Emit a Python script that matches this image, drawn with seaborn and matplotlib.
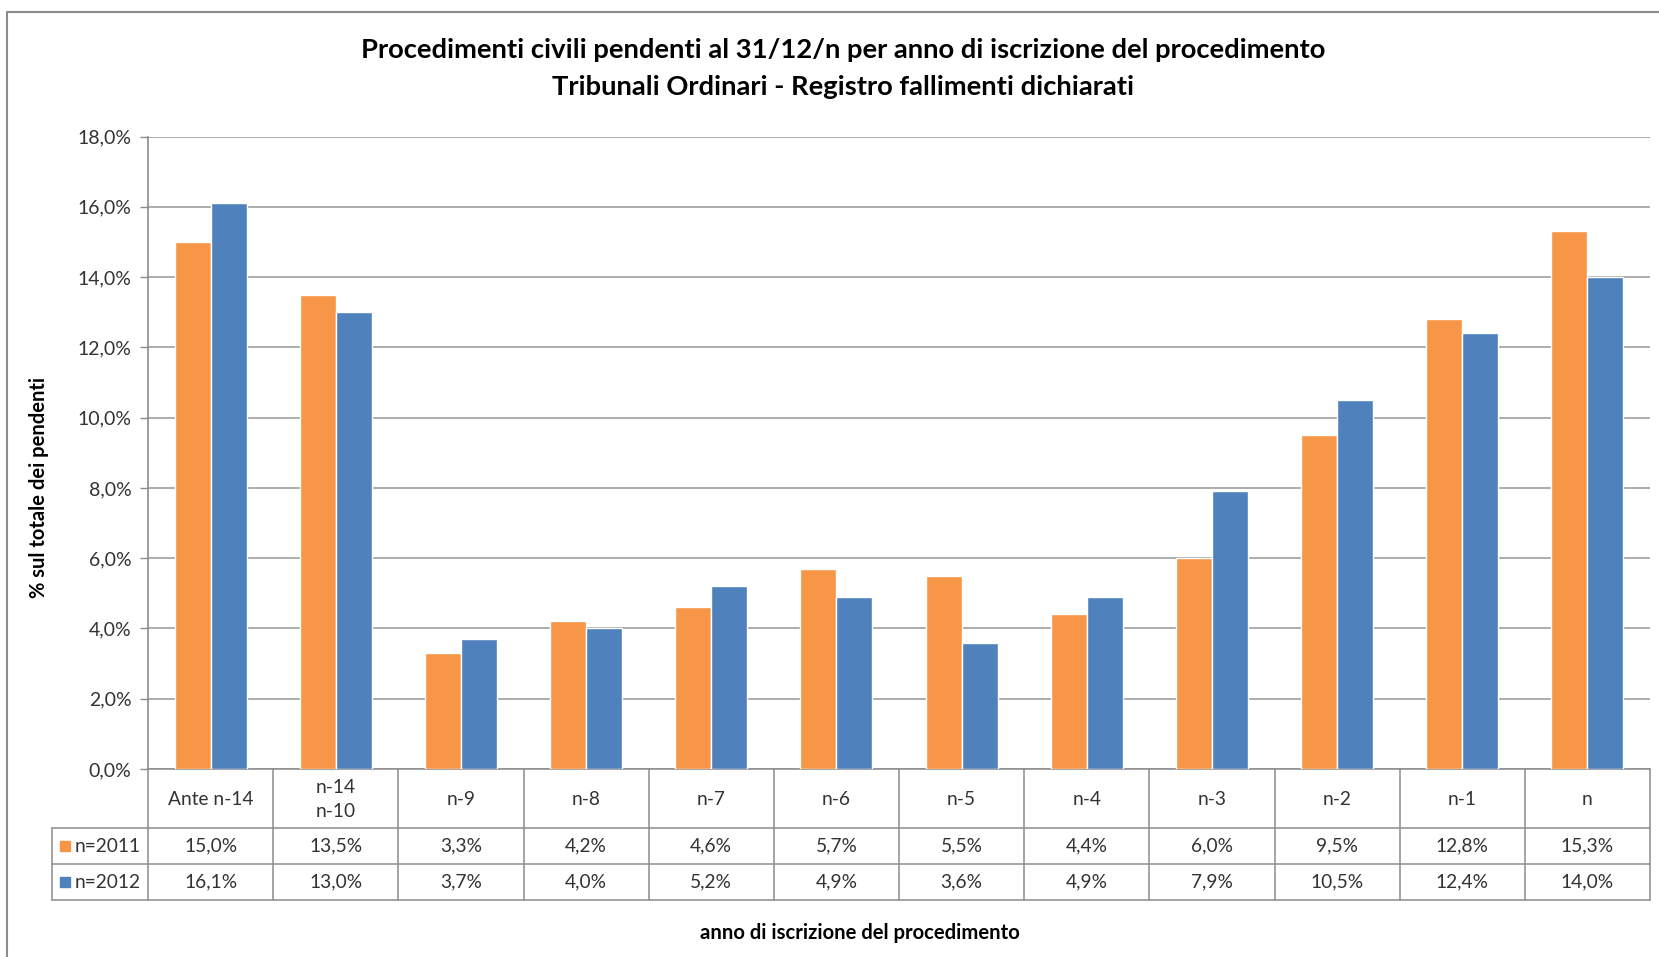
import matplotlib
matplotlib.use("Agg")
import matplotlib.pyplot as plt
from matplotlib.lines import Line2D
from matplotlib.patches import Rectangle
import seaborn as sns
import pandas as pd

categories = ["Ante n-14", "n-14\nn-10", "n-9", "n-8", "n-7", "n-6", "n-5",
              "n-4", "n-3", "n-2", "n-1", "n"]
series_names = ["n=2011", "n=2012"]
values_2011 = [15.0, 13.5, 3.3, 4.2, 4.6, 5.7, 5.5, 4.4, 6.0, 9.5, 12.8, 15.3]
values_2012 = [16.1, 13.0, 3.7, 4.0, 5.2, 4.9, 3.6, 4.9, 7.9, 10.5, 12.4, 14.0]
yticks = [0, 2, 4, 6, 8, 10, 12, 14, 16, 18]

title1 = "Procedimenti civili pendenti al 31/12/n per anno di iscrizione del procedimento"
title2 = "Tribunali Ordinari - Registro fallimenti dichiarati"
xlabel = "anno di iscrizione del procedimento"
ylabel = "% sul totale dei pendenti"

ORANGE = "#F79646"
BLUE = "#4F81BD"
GRID = "#A6A6A6"
BORDER = "#8C8C8C"
TXT = "#333333"

sns.set_theme(style="white")
plt.rcParams["font.family"] = ["Lato", "DejaVu Sans"]

df = pd.DataFrame({
    "cat": categories * 2,
    "val": values_2011 + values_2012,
    "serie": [series_names[0]] * len(categories) + [series_names[1]] * len(categories),
})

W, H = 1659, 957
fig = plt.figure(figsize=(W / 100, H / 100), dpi=100)
ax_l, ax_r, ax_t, ax_b = 148, 1650, 136.5, 769
ax = fig.add_axes([ax_l / W, 1 - ax_b / H, (ax_r - ax_l) / W, (ax_b - ax_t) / H])

sns.barplot(data=df, x="cat", y="val", hue="serie", order=categories,
            hue_order=series_names, palette=[ORANGE, BLUE], width=0.575,
            gap=0, saturation=1, legend=False, ax=ax, zorder=3)

ax.set_ylim(0, 18)
ax.set_xlim(-0.5, len(categories) - 0.5)
ax.set_yticks(yticks)
ax.set_yticklabels([f"{v:.1f}%".replace(".", ",") for v in yticks],
                   fontsize=14, color=TXT)
ax.tick_params(axis="y", which="major", length=6, width=1, color=BORDER,
               left=True, pad=6)
ax.set_xticks([])
ax.set_xlabel("")
ax.set_ylabel("")
ax.yaxis.grid(True, color=GRID, lw=1.3)
ax.set_axisbelow(True)
for s in ["top", "right", "bottom"]:
    ax.spines[s].set_visible(False)
ax.spines["left"].set_color(BORDER)
ax.spines["left"].set_linewidth(1.2)

# data table drawn below the axes
axh = ax_b - ax_t
axw = ax_r - ax_l
def yf(px):
    return (ax_b - px) / axh
y0, y1, y2, y3 = 0.0, yf(828), yf(864), yf(900)
leg_left = -(ax_l - 52) / axw
n = len(categories)
tr = ax.transAxes
lw = 1.1
lines = [
    ((0, 1), (y0, y0)),
    ((leg_left, 1), (y1, y1)),
    ((leg_left, 1), (y2, y2)),
    ((leg_left, 1), (y3, y3)),
    ((leg_left, leg_left), (y1, y3)),
]
for i in range(n + 1):
    lines.append(((i / n, i / n), (y0, y3)))
for xs, ys in lines:
    ax.add_line(Line2D(xs, ys, transform=tr, color=BORDER, lw=lw, clip_on=False))

for i, c in enumerate(categories):
    xc = (i + 0.5) / n
    ax.text(xc, (y0 + y1) / 2 - 0.002, c, transform=tr, ha="center", va="center",
            fontsize=13.8, color=TXT, linespacing=1.5)
    ax.text(xc, (y1 + y2) / 2, f"{values_2011[i]:.1f}%".replace(".", ","),
            transform=tr, ha="center", va="center", fontsize=13.8, color=TXT)
    ax.text(xc, (y2 + y3) / 2, f"{values_2012[i]:.1f}%".replace(".", ","),
            transform=tr, ha="center", va="center", fontsize=13.8, color=TXT)

sq = 10 / axw
sqh = 10 / axh
for (ya, yb), col, name in [((y1, y2), ORANGE, series_names[0]),
                            ((y2, y3), BLUE, series_names[1])]:
    ym = (ya + yb) / 2
    ax.add_patch(Rectangle((leg_left + 8 / axw, ym - sqh / 2), sq, sqh,
                           transform=tr, color=col, clip_on=False))
    ax.text(leg_left + 23 / axw, ym, name, transform=tr, ha="left", va="center",
            fontsize=13.8, color=TXT)

# titles and axis labels
fig.text(843 / W, 1 - 50 / H, title1, ha="center", va="center",
         fontsize=19.7, fontweight="bold", color="#000000")
fig.text(843 / W, 1 - 87 / H, title2, ha="center", va="center",
         fontsize=19.7, fontweight="bold", color="#000000")
fig.text(860 / W, 1 - 933 / H, xlabel, ha="center", va="center",
         fontsize=14.6, fontweight="bold", color="#000000")
fig.text(39 / W, 1 - 487 / H, ylabel, ha="center", va="center", rotation=90,
         fontsize=14.5, fontweight="bold", color="#000000")

# outer chart border (left and top visible)
fig.add_artist(Line2D([6.5 / W, 6.5 / W], [0, 1 - 12 / H], transform=fig.transFigure,
                      color=BORDER, lw=1.5))
fig.add_artist(Line2D([6.5 / W, 1], [1 - 12 / H, 1 - 12 / H], transform=fig.transFigure,
                      color=BORDER, lw=1.5))

fig.savefig("out.png", dpi=100, facecolor="white")
